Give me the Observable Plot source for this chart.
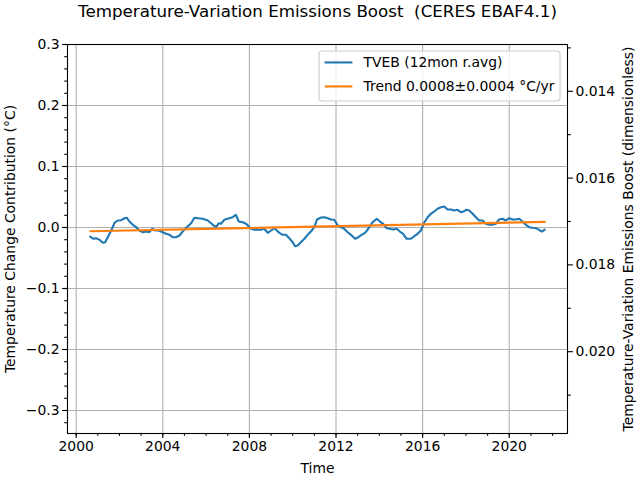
<!DOCTYPE html>
<html><head><meta charset="utf-8">
<script src="https://cdn.jsdelivr.net/npm/d3@7"></script>
<script src="https://cdn.jsdelivr.net/npm/@observablehq/plot@0.6"></script>
<style>
body{margin:0;background:#fff;}
svg text{white-space:pre;}
</style>
</head><body><div id="chart"></div>
<script>
const years = [2000.65,2000.80,2000.92,2001.08,2001.23,2001.34,2001.46,2001.62,2001.77,2001.92,
2002.08,2002.23,2002.34,2002.46,2002.62,2002.77,2002.92,2003.08,2003.23,2003.38,
2003.51,2003.65,2003.80,2004.00,2004.15,2004.31,2004.46,2004.61,2004.77,2004.92,
2005.08,2005.31,2005.46,2005.62,2005.85,2006.08,2006.31,2006.46,2006.59,2006.69,
2006.84,2007.07,2007.23,2007.38,2007.51,2007.69,2007.85,2007.97,2008.08,2008.23,
2008.38,2008.54,2008.69,2008.85,2009.00,2009.15,2009.38,2009.54,2009.69,2009.84,
2010.00,2010.11,2010.23,2010.38,2010.54,2010.69,2010.84,2011.00,2011.12,2011.31,
2011.46,2011.62,2011.77,2011.92,2012.08,2012.23,2012.38,2012.54,2012.69,2012.88,
2013.03,2013.18,2013.34,2013.49,2013.69,2013.88,2014.03,2014.18,2014.34,2014.49,
2014.64,2014.80,2014.95,2015.10,2015.26,2015.46,2015.61,2015.77,2015.92,2016.07,
2016.23,2016.38,2016.53,2016.69,2016.84,2017.00,2017.15,2017.30,2017.46,2017.61,
2017.77,2017.92,2018.00,2018.15,2018.31,2018.46,2018.61,2018.77,2018.92,2019.07,
2019.23,2019.38,2019.53,2019.69,2019.84,2020.00,2020.15,2020.30,2020.46,2020.61,
2020.77,2020.92,2021.08,2021.23,2021.38,2021.50,2021.64];
const tveb = [-0.0148,-0.0185,-0.0175,-0.0202,-0.0251,-0.0241,-0.0159,-0.0049,0.0077,0.0115,
0.0120,0.0152,0.0159,0.0098,0.0044,0.0005,-0.0049,-0.0077,-0.0066,-0.0077,
-0.0021,-0.0049,-0.0049,-0.0077,-0.0103,-0.0120,-0.0159,-0.0159,-0.0131,-0.0066,
-0.0005,0.0070,0.0159,0.0152,0.0143,0.0115,0.0044,0.0005,0.0070,0.0061,
0.0126,0.0152,0.0169,0.0208,0.0098,0.0087,0.0061,0.0016,-0.0021,-0.0038,
-0.0033,-0.0038,-0.0021,-0.0087,-0.0049,-0.0011,-0.0087,-0.0120,-0.0120,-0.0175,
-0.0241,-0.0307,-0.0295,-0.0241,-0.0185,-0.0120,-0.0066,0.0005,0.0131,0.0164,
0.0169,0.0152,0.0131,0.0126,0.0033,0.0005,-0.0021,-0.0077,-0.0120,-0.0185,
-0.0159,-0.0120,-0.0087,-0.0021,0.0087,0.0143,0.0098,0.0061,-0.0011,-0.0021,
-0.0033,-0.0021,-0.0066,-0.0103,-0.0185,-0.0185,-0.0143,-0.0103,-0.0049,0.0077,
0.0169,0.0225,0.0262,0.0307,0.0333,0.0344,0.0295,0.0295,0.0279,0.0290,
0.0251,0.0267,0.0290,0.0279,0.0225,0.0169,0.0115,0.0115,0.0061,0.0044,
0.0044,0.0061,0.0131,0.0143,0.0115,0.0152,0.0131,0.0131,0.0143,0.0098,
0.0044,0.0005,-0.0005,-0.0011,-0.0038,-0.0066,-0.0033];
const trendYears = [2000.65, 2021.64];
const trendValues = [-0.0062, 0.0092];

const xTicks = [2000, 2004, 2008, 2012, 2016, 2020];
const xMinor = d3.range(2000, 2023);
const leftTicks = [-0.3, -0.2, -0.1, 0, 0.1, 0.2, 0.3];
const leftMinor = d3.range(-16, 16).map(i => +(i * 0.02).toFixed(2));
const rightTicks = [0.014, 0.016, 0.018, 0.020];
const rightMinor = [0.013, 0.015, 0.017, 0.019, 0.021];

const title = "Temperature-Variation Emissions Boost  (CERES EBAF4.1)";
const xLabel = "Time";
const yLabel = "Temperature Change Contribution (°C)";
const y2Label = "Temperature-Variation Emissions Boost (dimensionless)";
const legendLabels = ["TVEB (12mon r.avg)", "Trend 0.0008±0.0004 °C/yr"];
const colors = ["#1f77b4", "#ff7f0e"];

const yDomain = [-0.3377, 0.3];
// right axis (inverted) mapped onto left-axis units
const r2p = d3.scaleLinear().domain([0.012922, 0.021885]).range([0.3, -0.3377]);

const data = years.map((t, i) => ({t, v: tveb[i]}));
const trend = trendYears.map((t, i) => ({t, v: trendValues[i]}));
const fmt1 = d3.format(".1f");

const lw = 2.1, tw = 1.1;
const plot = Plot.plot({
  width: 640, height: 480,
  marginTop: 44, marginBottom: 47, marginLeft: 67, marginRight: 73,
  style: {fontFamily: "DejaVu Sans", fontSize: "13.9px", background: "white", color: "black", overflow: "visible"},
  x: {domain: [1999.6, 2022.69]},
  y: {domain: yDomain},
  marks: [
    Plot.gridX(xTicks, {stroke: "#b0b0b0", strokeOpacity: 1, strokeWidth: tw}),
    Plot.gridY(leftTicks, {stroke: "#b0b0b0", strokeOpacity: 1, strokeWidth: tw}),
    Plot.line(data, {x: "t", y: "v", stroke: colors[0], strokeWidth: lw}),
    Plot.line(trend, {x: "t", y: "v", stroke: colors[1], strokeWidth: lw}),
    Plot.frame({stroke: "black", strokeWidth: tw}),
    Plot.axisX(xTicks, {tickSize: 4.9, tickPadding: 3, tickFormat: d3.format("d"), label: null, strokeWidth: tw, fontSize: 13.9}),
    Plot.axisX(xMinor, {tickSize: 2.8, tickFormat: () => "", label: null, strokeWidth: tw}),
    Plot.axisY(leftTicks, {anchor: "left", tickSize: 4.9, tickPadding: 3, tickFormat: d => fmt1(d), label: null, strokeWidth: tw, fontSize: 13.9}),
    Plot.axisY(leftMinor, {anchor: "left", tickSize: 2.8, tickFormat: () => "", label: null, strokeWidth: tw}),
    Plot.axisY(rightTicks.map(r2p), {anchor: "right", tickSize: 4.9, tickPadding: 3, tickFormat: d => d3.format(".3f")(r2p.invert(d)), label: null, strokeWidth: tw, fontSize: 13.9}),
    Plot.axisY(rightMinor.map(r2p), {anchor: "right", tickSize: 2.8, tickFormat: () => "", label: null, strokeWidth: tw}),
    Plot.text([title], {frameAnchor: "top", dy: -33, fontSize: 16.7, textAnchor: "middle", lineAnchor: "middle"}),
    Plot.text([xLabel], {frameAnchor: "bottom", dy: 35, fontSize: 13.9, textAnchor: "middle", lineAnchor: "middle"}),
    Plot.text([yLabel], {frameAnchor: "left", dx: -57, rotate: -90, fontSize: 13.9, textAnchor: "middle", lineAnchor: "middle"}),
    Plot.text([y2Label], {frameAnchor: "right", dx: 61, rotate: -90, fontSize: 13.9, textAnchor: "middle", lineAnchor: "middle"})
  ]
});
document.getElementById("chart").appendChild(plot);

// legend (upper right)
const svg = d3.select(plot);
const fs = 13.9;
const frameRight = 640 - 73, frameTop = 44;
const g = svg.append("g").attr("font-family", "DejaVu Sans").attr("font-size", fs).attr("text-anchor", "start");
const box = g.append("rect");
const texts = legendLabels.map((lab, i) => g.append("text").text(lab).attr("text-anchor", "start").attr("dominant-baseline", "central").attr("fill", "black"));
const textW = d3.max(texts, t => t.node().getComputedTextLength());
const pad = 0.4 * fs, hl = 2 * fs, htp = 0.8 * fs, rowH = 24;
const bw = pad + hl + htp + textW + pad;
const bh = 50;
const bx = frameRight - 0.5 * fs - bw, by = frameTop + 0.5 * fs;
box.attr("x", bx).attr("y", by).attr("width", bw).attr("height", bh).attr("rx", 3)
  .attr("fill", "white").attr("fill-opacity", 0.8).attr("stroke", "#cccccc").attr("stroke-width", 1.1);
legendLabels.forEach((lab, i) => {
  const cy = by + 11.5 + i * rowH;
  g.append("line").attr("x1", bx + pad).attr("x2", bx + pad + hl).attr("y1", cy).attr("y2", cy)
    .attr("stroke", colors[i]).attr("stroke-width", lw);
  texts[i].attr("x", bx + pad + hl + htp).attr("y", cy);
});
</script>
</body></html>
